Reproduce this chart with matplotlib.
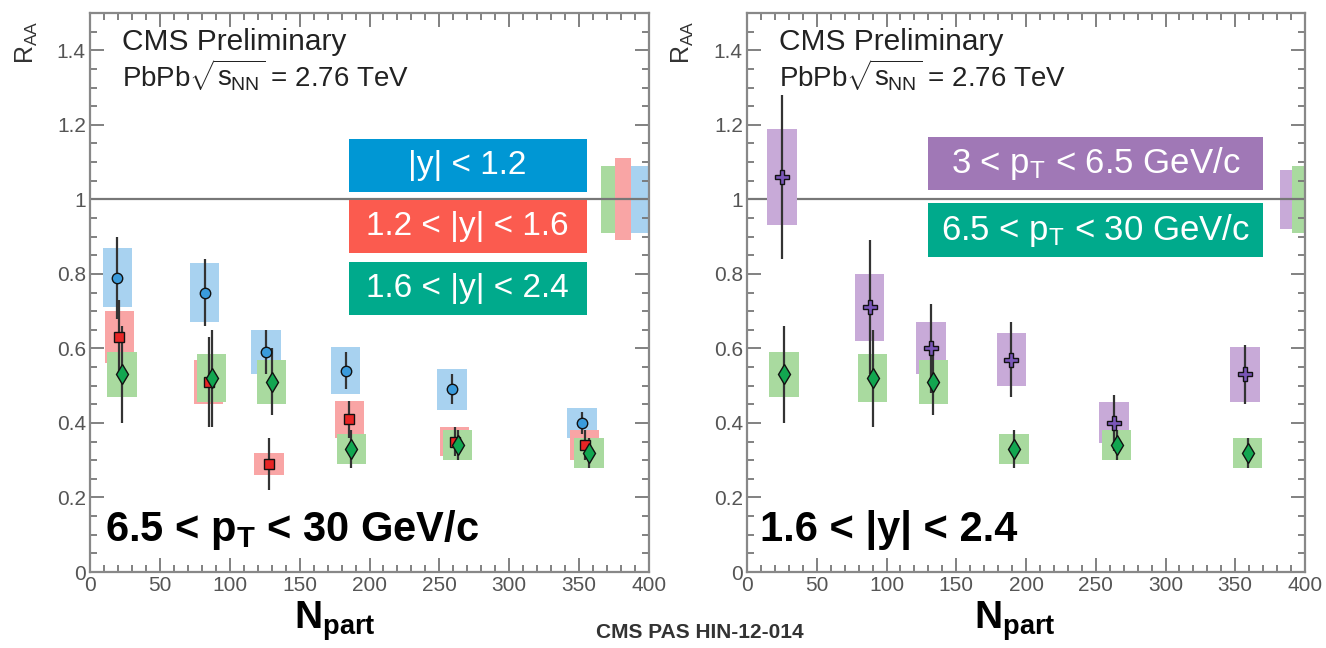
import numpy as np
import matplotlib.pyplot as plt
from matplotlib.patches import Rectangle

plt.rcParams['font.family'] = ['Liberation Sans', 'DejaVu Sans']
plt.rcParams['mathtext.fontset'] = 'custom'
plt.rcParams['mathtext.rm'] = 'Liberation Sans'
plt.rcParams['mathtext.it'] = 'Liberation Sans'
plt.rcParams['mathtext.bf'] = 'Liberation Sans:bold'

# Data: left panel, 6.5 < pT < 30 GeV/c, three rapidity bins
x_blue = [19.5, 82, 126, 183, 259, 352]
r_blue = [0.79, 0.75, 0.59, 0.54, 0.49, 0.40]
stat_blue = [0.11, 0.09, 0.06, 0.05, 0.04, 0.03]
sys_blue = [0.08, 0.08, 0.06, 0.063, 0.055, 0.04]

x_red = [21, 85, 128, 185.5, 261, 354]
r_red = [0.63, 0.51, 0.29, 0.41, 0.35, 0.34]
stat_red = [0.10, 0.12, 0.07, 0.05, 0.04, 0.04]
sys_red = [0.07, 0.06, 0.03, 0.05, 0.04, 0.04]

x_green = [23, 87, 130, 187, 263, 357]
r_green = [0.53, 0.52, 0.51, 0.33, 0.34, 0.32]
stat_green = [0.13, 0.13, 0.09, 0.05, 0.04, 0.04]
sys_green = [0.06, 0.065, 0.06, 0.04, 0.04, 0.04]

# right panel, 1.6 < |y| < 2.4, two pT bins
x_purple = [25, 88, 132, 189.5, 263, 357]
r_purple = [1.06, 0.71, 0.60, 0.57, 0.40, 0.53]
stat_purple = [0.22, 0.18, 0.12, 0.10, 0.075, 0.08]
sys_purple = [0.13, 0.09, 0.07, 0.07, 0.055, 0.075]

x_green_r = [26.5, 90, 133.5, 191.5, 265, 359]

# global uncertainties (x range, half height)
glob_left = [([366, 376], 0.09), ([376, 387], 0.11), ([387, 400], 0.09)]
glob_right = [([382, 391], 0.08), ([391, 400], 0.09)]

# colours
c_blue, c_blue_l = '#0097d4', '#a8d2f0'
c_red, c_red_l = '#fb5b4f', '#f9a5a5'
c_green, c_green_l = '#00aa8c', '#a9da9f'
c_purple, c_purple_l = '#a078b6', '#c8aad8'
m_blue, m_red, m_green, m_purple = '#3a9bdc', '#e82525', '#12a650', '#7a56b8'

W, H = 1326, 648
fig = plt.figure(figsize=(W / 100, H / 100), dpi=100)
axL = fig.add_axes([90 / W, 76 / H, 559 / W, 559 / H])
axR = fig.add_axes([747 / W, 76 / H, 558 / W, 559 / H])


def style(ax):
    ax.set_xlim(0, 400)
    ax.set_ylim(0, 1.5)
    ax.set_xticks(np.arange(0, 401, 50))
    ax.set_xticks(np.arange(0, 401, 10), minor=True)
    ax.set_yticks(np.arange(0, 1.41, 0.2))
    ax.set_yticks(np.arange(0, 1.5, 0.05), minor=True)
    ax.set_yticklabels(['0', '0.2', '0.4', '0.6', '0.8', '1', '1.2', '1.4'])
    ax.tick_params(which='both', direction='in', top=True, right=True,
                   colors='#777777', labelcolor='#555555', labelsize=15, width=1.3)
    ax.tick_params(which='major', length=10, pad=3)
    ax.tick_params(which='minor', length=5)
    for s in ax.spines.values():
        s.set_color('#888888')
        s.set_linewidth(1.6)
    ax.axhline(1, color='#777777', lw=1.6, zorder=2)
    ax.text(0.057, 0.948, 'CMS Preliminary', transform=ax.transAxes,
            fontsize=21.5, color='#222222', va='center')
    ax.text(0.057, 0.889, r'PbPb$\sqrt{s_{\mathregular{NN}}}$ = 2.76 TeV',
            transform=ax.transAxes, fontsize=20, color='#222222', va='center')


def series(ax, x, r, stat, sys, face, box, marker, ms, hw=10.5):
    for xi, ri, si in zip(x, r, sys):
        ax.add_patch(Rectangle((xi - hw, ri - si), 2 * hw, 2 * si,
                               facecolor=box, edgecolor='none', zorder=3))
    ax.errorbar(x, r, yerr=stat, fmt='none', ecolor='#333333', elinewidth=1.6,
                capsize=0, zorder=5)
    ax.plot(x, r, ls='none', marker=marker, ms=ms, mfc=face, mec='#111111',
            mew=1.0, zorder=6)


def label_box(ax, x0, x1, y0, y1, color, text, fs=24):
    ax.add_patch(Rectangle((x0, y0), x1 - x0, y1 - y0, facecolor=color,
                           edgecolor='none', zorder=8))
    ax.text((x0 + x1) / 2, (y0 + y1) / 2, text, color='white', fontsize=fs,
            ha='center', va='center', zorder=9)


style(axL)
for (xr, g), col in zip(glob_left, [c_green_l, c_red_l, c_blue_l]):
    axL.add_patch(Rectangle((xr[0], 1 - g), xr[1] - xr[0], 2 * g,
                            facecolor=col, edgecolor='none', zorder=1))
series(axL, x_blue, r_blue, stat_blue, sys_blue, m_blue, c_blue_l, 'o', 7.5)
series(axL, x_red, r_red, stat_red, sys_red, m_red, c_red_l, 's', 7.5)
series(axL, x_green, r_green, stat_green, sys_green, m_green, c_green_l, 'd', 10)
label_box(axL, 185, 355.5, 1.02, 1.162, c_blue, '|y| < 1.2')
label_box(axL, 185, 355.5, 0.856, 0.998, c_red, '1.2 < |y| < 1.6')
label_box(axL, 185, 355.5, 0.69, 0.832, c_green, '1.6 < |y| < 2.4')
axL.text(0.027, 0.075, r'6.5 < p$_\mathbf{T}$ < 30 GeV/c', transform=axL.transAxes,
         fontsize=30, fontweight='bold', va='center', zorder=9)

style(axR)
for (xr, g), col in zip(glob_right, [c_purple_l, c_green_l]):
    axR.add_patch(Rectangle((xr[0], 1 - g), xr[1] - xr[0], 2 * g,
                            facecolor=col, edgecolor='none', zorder=1))
series(axR, x_purple, r_purple, stat_purple, sys_purple, m_purple, c_purple_l, 'P', 10)
series(axR, x_green_r, r_green, stat_green, sys_green, m_green, c_green_l, 'd', 10)
label_box(axR, 129.7, 370, 1.025, 1.167, c_purple, r'3 < p$_\mathregular{T}$ < 6.5 GeV/c', 25)
label_box(axR, 129.7, 370, 0.845, 0.99, c_green, r'6.5 < p$_\mathregular{T}$ < 30 GeV/c', 25)
axR.text(0.023, 0.075, '1.6 < |y| < 2.4', transform=axR.transAxes,
         fontsize=30, fontweight='bold', va='center', zorder=9)

# axis titles
for xc in [335, 1015]:
    fig.text(xc / W, 1 - 621 / H, r'N$_\mathbf{part}$', fontsize=28,
             fontweight='bold', ha='center', va='center')
for xc in [27, 683]:
    fig.text(xc / W, 1 - 42 / H, r'R$_\mathregular{AA}$', fontsize=18,
             rotation=90, ha='center', va='center', color='#333333')
fig.text(700 / W, 1 - 632 / H, 'CMS PAS HIN-12-014', fontsize=15,
         fontweight='bold', ha='center', va='center', color='#333333')

fig.savefig('out.png', dpi=100)
